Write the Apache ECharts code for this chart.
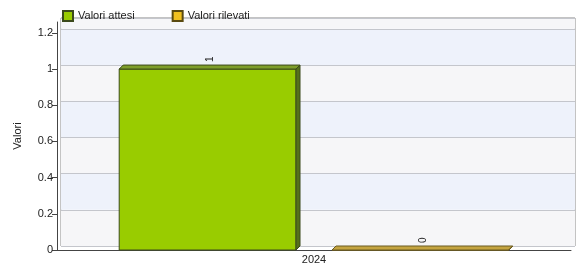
<!DOCTYPE html>
<html>
<head>
<meta charset="utf-8">
<script src="https://cdn.jsdelivr.net/npm/echarts@6/dist/echarts.min.js"></script>
<style>
    html, body {margin: 0; padding: 0; background: #fff;}
    #main {width: 577px; height: 273px;}
</style>
</head>
<body>
<div id="main"></div>
<script>
const categories = ['2024'];
const seriesNames = ['Valori attesi', 'Valori rilevati'];
const valoriAttesi = [1];
const valoriRilevati = [0];
const yTicks = [0, 0.2, 0.4, 0.6, 0.8, 1, 1.2];

const font = 'Liberation Sans, Arial, sans-serif';
const depth = 4;

// 3D bar: front face, top face, right face and the rotated value label
function bar3d(offset, colors) {
    return function (params, api) {
        const cat = api.value(0);
        const val = api.value(1);
        const top = api.coord([cat, val]);
        const base = api.coord([cat, 0]);
        const band = api.size([1, 0])[0];
        const w = band * 0.344;
        const x0 = top[0] + band * offset - w / 2;
        const x1 = x0 + w;
        const yT = top[1];
        const yB = base[1];
        return {
            type: 'group',
            children: [
                {
                    type: 'rect',
                    shape: {x: x0, y: yT, width: w, height: yB - yT},
                    style: {fill: colors.front, stroke: colors.edge, lineWidth: 1}
                },
                {
                    type: 'polygon',
                    shape: {points: [[x0, yT], [x0 + depth, yT - depth], [x1 + depth, yT - depth], [x1, yT]]},
                    style: {fill: colors.top, stroke: colors.edge, lineWidth: 1}
                },
                {
                    type: 'polygon',
                    shape: {points: [[x1, yT], [x1 + depth, yT - depth], [x1 + depth, yB - depth], [x1, yB]]},
                    style: {fill: colors.side, stroke: colors.edge, lineWidth: 1}
                },
                {
                    type: 'text',
                    x: x0 + w / 2 + 3,
                    y: yT - depth - 3,
                    rotation: Math.PI / 2,
                    style: {
                        text: String(val),
                        fill: '#222',
                        font: '10px ' + font,
                        align: 'left',
                        verticalAlign: 'middle'
                    }
                }
            ]
        };
    };
}

const myChart = echarts.init(document.getElementById('main'));
myChart.setOption({
    animation: false,
    backgroundColor: '#fff',
    textStyle: {fontFamily: font},
    legend: {
        left: 57,
        top: 5,
        itemWidth: 10,
        itemHeight: 10,
        itemGap: 37,
        icon: 'rect',
        textStyle: {fontSize: 11, color: '#222', fontFamily: font},
        data: seriesNames
    },
    grid: [
        // back wall
        {left: 61, right: 2, top: 18, bottom: 27, show: true, borderColor: '#888', borderWidth: 1},
        // front plane
        {left: 57, right: 6, top: 22, bottom: 23}
    ],
    xAxis: [
        {
            gridIndex: 0,
            type: 'category',
            data: categories,
            axisLine: {show: false},
            axisTick: {show: false},
            axisLabel: {show: false}
        },
        {
            gridIndex: 1,
            type: 'category',
            data: categories,
            axisLine: {lineStyle: {color: '#444'}},
            axisTick: {alignWithLabel: true, length: 5, lineStyle: {color: '#444'}},
            axisLabel: {fontSize: 11, color: '#222', margin: 4}
        }
    ],
    yAxis: [
        {
            gridIndex: 0,
            type: 'value',
            min: 0,
            max: 1.26,
            interval: 0.2,
            axisLine: {show: false},
            axisTick: {show: false},
            axisLabel: {show: false},
            splitLine: {lineStyle: {color: '#c4c6cc'}},
            splitArea: {show: true, areaStyle: {color: ['#f6f6f8', '#eef2fb']}}
        },
        {
            gridIndex: 1,
            type: 'value',
            min: 0,
            max: 1.26,
            name: 'Valori',
            nameLocation: 'middle',
            nameGap: 34,
            nameTextStyle: {fontSize: 11, color: '#222', fontFamily: font},
            axisLine: {show: true, lineStyle: {color: '#444'}},
            axisTick: {show: true, length: 5, customValues: yTicks, lineStyle: {color: '#444'}},
            axisLabel: {fontSize: 11, color: '#222', margin: 4, customValues: yTicks},
            splitLine: {show: false}
        }
    ],
    series: [
        {
            name: seriesNames[0],
            type: 'custom',
            xAxisIndex: 1,
            yAxisIndex: 1,
            itemStyle: {color: '#99cc00', borderColor: '#3c4a1c', borderWidth: 1},
            renderItem: bar3d(-0.207, {front: '#99cc00', top: '#7e9e2a', side: '#55701a', edge: '#3c4a1c'}),
            encode: {x: 0, y: 1},
            data: valoriAttesi.map((v, i) => [i, v]),
            z: 5
        },
        {
            name: seriesNames[1],
            type: 'custom',
            xAxisIndex: 1,
            yAxisIndex: 1,
            itemStyle: {color: '#f0c020', borderColor: '#5a4a10', borderWidth: 1},
            renderItem: bar3d(0.207, {front: '#e0b830', top: '#c4a440', side: '#9a7e20', edge: '#6a5a20'}),
            encode: {x: 0, y: 1},
            data: valoriRilevati.map((v, i) => [i, v]),
            z: 5
        }
    ]
});
</script>
</body>
</html>
